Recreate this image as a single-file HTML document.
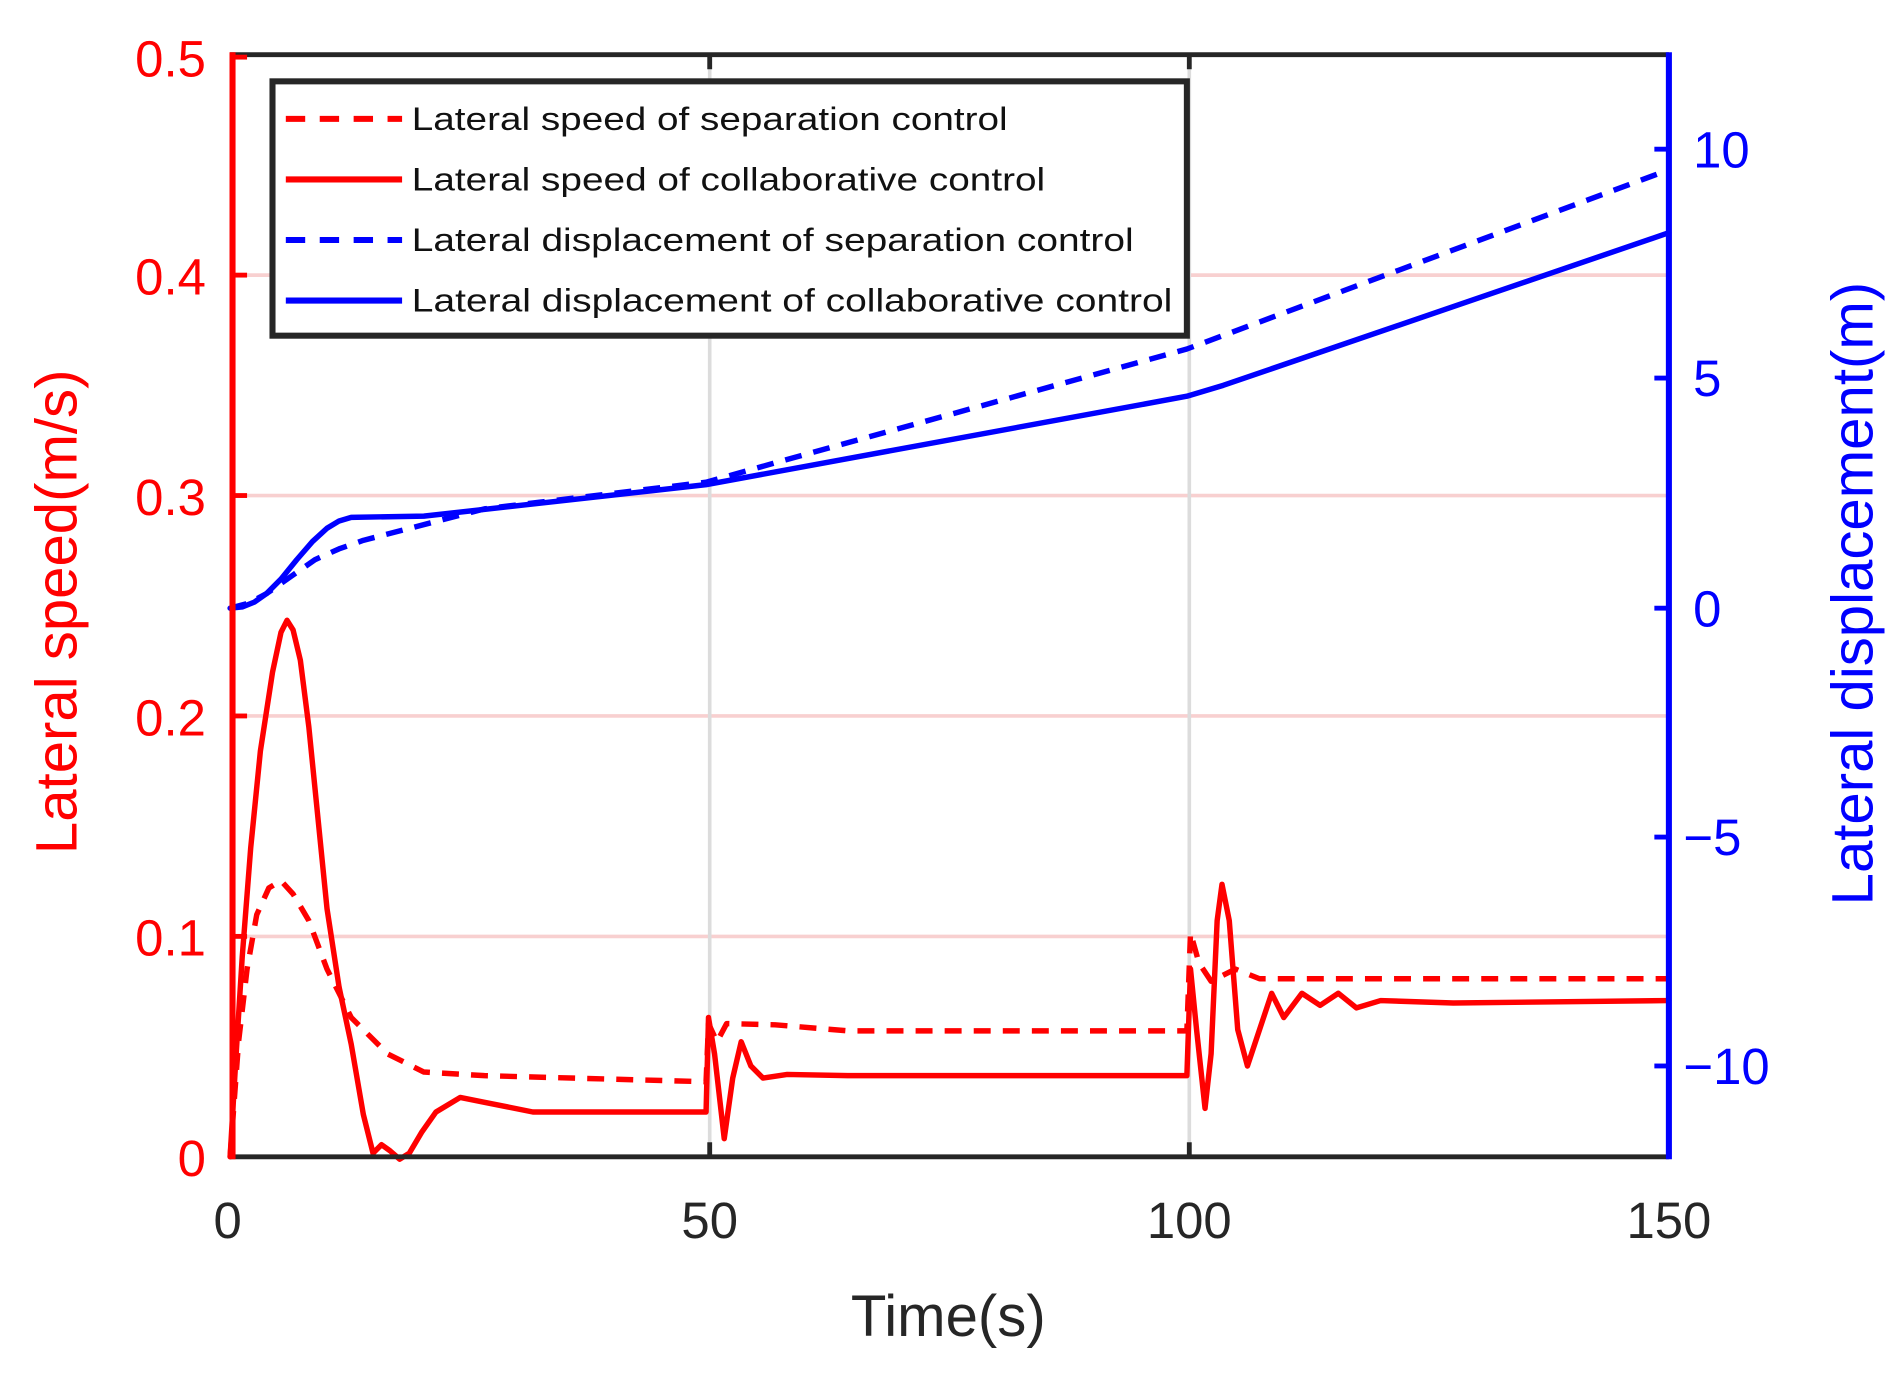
<!DOCTYPE html>
<html><head><meta charset="utf-8"><style>html,body{margin:0;padding:0;background:#fff}svg{display:block}</style></head>
<body>
<svg width="1899" height="1375" viewBox="0 0 1568 1135" xmlns="http://www.w3.org/2000/svg" font-family="Liberation Sans, sans-serif">
<rect width="1568" height="1135" fill="#fff"/>
<g stroke="#f8d0d0" stroke-width="3">
<line x1="190" y1="773" x2="1378" y2="773"/><line x1="190" y1="591" x2="1378" y2="591"/>
<line x1="190" y1="409" x2="1378" y2="409"/><line x1="190" y1="227" x2="1378" y2="227"/>
</g>
<g stroke="#dcdcdc" stroke-width="3">
<line x1="586" y1="45" x2="586" y2="955"/><line x1="982" y1="45" x2="982" y2="955"/>
</g>
<g fill="none" stroke-width="4.5" stroke-linejoin="round" stroke-linecap="round">
<polyline stroke="#0000ff" points="190,502 200,501 210,497 220,490 232,478 245,462 258,447 270,436 280,430 290,427 350,426 583,400 980,327 1010,318 1378,192"/>
<polyline stroke="#0000ff" stroke-dasharray="14,10" stroke-linecap="butt" points="190,502 205,498 220,490 240,476 260,462 280,453 300,446 400,420 583,398 640,382 980,288 1378,140"/>
<polyline stroke="#ff0000" points="190,955 195,870 200,790 207,700 215,620 225,555 232,522 237,512 242,520 248,545 255,600 262,670 270,750 280,815 290,862 300,920 308,952 315,945 322,950 330,957 338,952 348,935 360,918 380,906 400,910 440,918 583,918 585,840 590,870 598,940 605,890 612,860 620,880 630,890 650,887 700,888 980,888 983,800 988,850 995,915 1000,870 1005,760 1009,730 1015,760 1022,850 1030,880 1040,850 1050,820 1060,840 1075,820 1090,830 1105,820 1120,832 1140,826 1200,828 1378,826"/>
<polyline stroke="#ff0000" stroke-dasharray="14,10" stroke-linecap="butt" points="190,955 197,860 204,800 212,755 222,733 232,727 242,738 255,760 270,800 290,840 320,870 350,885 400,888 583,893 585,845 592,860 600,845 640,846 700,851 980,851 983,770 990,795 1000,810 1010,805 1020,800 1040,808 1378,808"/>
</g>
<line x1="190" y1="45" x2="1378" y2="45" stroke="#262626" stroke-width="4"/>
<line x1="190" y1="955" x2="1378" y2="955" stroke="#262626" stroke-width="4"/>
<g stroke="#262626" stroke-width="4">
<line x1="586" y1="45" x2="586" y2="57"/><line x1="982" y1="45" x2="982" y2="57"/>
<line x1="586" y1="955" x2="586" y2="943"/><line x1="982" y1="955" x2="982" y2="943"/>
</g>
<line x1="192" y1="43" x2="192" y2="957" stroke="#ff0000" stroke-width="5"/>
<g stroke="#ff0000" stroke-width="4">
<line x1="192" y1="47" x2="204" y2="47"/><line x1="192" y1="227" x2="204" y2="227"/><line x1="192" y1="409" x2="204" y2="409"/>
<line x1="192" y1="591" x2="204" y2="591"/><line x1="192" y1="773" x2="204" y2="773"/>
</g>
<line x1="1378" y1="43" x2="1378" y2="957" stroke="#0000ff" stroke-width="5"/>
<g stroke="#0000ff" stroke-width="4">
<line x1="1366" y1="123" x2="1378" y2="123"/><line x1="1366" y1="312" x2="1378" y2="312"/><line x1="1366" y1="502" x2="1378" y2="502"/>
<line x1="1366" y1="691" x2="1378" y2="691"/><line x1="1366" y1="880" x2="1378" y2="880"/>
</g>
<g fill="#ff0000" font-size="42" text-anchor="end">
<text x="170" y="63">0.5</text><text x="170" y="243">0.4</text><text x="170" y="425">0.3</text>
<text x="170" y="607">0.2</text><text x="170" y="789">0.1</text><text x="170" y="971">0</text>
</g>
<g fill="#0000ff" font-size="42">
<text x="1398" y="138">10</text><text x="1398" y="327">5</text><text x="1398" y="517">0</text>
<text x="1390" y="706">−5</text><text x="1390" y="895">−10</text>
</g>
<g fill="#262626" font-size="42" text-anchor="middle">
<text x="188" y="1022">0</text><text x="586" y="1022">50</text><text x="982" y="1022">100</text><text x="1378" y="1022">150</text>
</g>
<text x="783" y="1103" fill="#262626" font-size="48" text-anchor="middle">Time(s)</text>
<text transform="translate(63,505) rotate(-90)" fill="#ff0000" font-size="48" text-anchor="middle">Lateral speed(m/s)</text>
<text transform="translate(1546,490) rotate(-90)" fill="#0000ff" font-size="48" text-anchor="middle">Lateral displacement(m)</text>
<rect x="225" y="67" width="755" height="210" fill="#fff" stroke="#262626" stroke-width="5"/>
<g stroke-width="5">
<line x1="236" y1="98" x2="332" y2="98" stroke="#ff0000" stroke-dasharray="16,12"/>
<line x1="236" y1="148" x2="332" y2="148" stroke="#ff0000"/>
<line x1="236" y1="198" x2="332" y2="198" stroke="#0000ff" stroke-dasharray="16,12"/>
<line x1="236" y1="248" x2="332" y2="248" stroke="#0000ff"/>
</g>
<g fill="#111" font-size="27">
<text x="340" y="107" textLength="492" lengthAdjust="spacingAndGlyphs">Lateral speed of separation control</text>
<text x="340" y="157" textLength="523" lengthAdjust="spacingAndGlyphs">Lateral speed of collaborative control</text>
<text x="340" y="207" textLength="596" lengthAdjust="spacingAndGlyphs">Lateral displacement of separation control</text>
<text x="340" y="257" textLength="628" lengthAdjust="spacingAndGlyphs">Lateral displacement of collaborative control</text>
</g>
</svg>
</body></html>
